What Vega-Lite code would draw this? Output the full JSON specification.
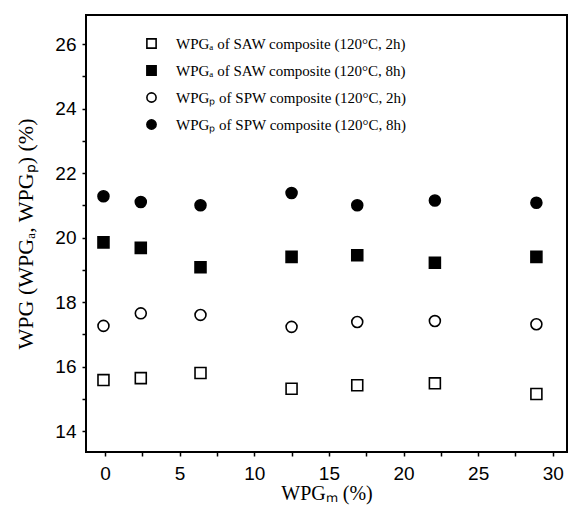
{
  "$schema": "https://vega.github.io/schema/vega-lite/v6.json",
  "autosize": {"type": "none"},
  "padding": {"left": 86, "top": 15, "right": 3, "bottom": 53},
  "width": 481,
  "height": 437,
  "background": "white",
  "config": {
    "view": {"stroke": "black", "strokeWidth": 2},
    "axis": {
      "grid": false,
      "labelFont": "Liberation Sans", "labelFontSize": 19, "labelColor": "black",
      "titleFont": "Liberation Serif", "titleFontSize": 22, "titleFontWeight": "normal", "titleColor": "black"
    }
  },
  "data": {
    "values": [
      {"x": -0.1, "y": 15.58, "s": "WPGₐ of SAW composite (120°C, 2h)"},
      {"x": 2.4, "y": 15.64, "s": "WPGₐ of SAW composite (120°C, 2h)"},
      {"x": 6.4, "y": 15.8, "s": "WPGₐ of SAW composite (120°C, 2h)"},
      {"x": 12.5, "y": 15.31, "s": "WPGₐ of SAW composite (120°C, 2h)"},
      {"x": 16.9, "y": 15.42, "s": "WPGₐ of SAW composite (120°C, 2h)"},
      {"x": 22.1, "y": 15.48, "s": "WPGₐ of SAW composite (120°C, 2h)"},
      {"x": 28.9, "y": 15.15, "s": "WPGₐ of SAW composite (120°C, 2h)"},
      {"x": -0.1, "y": 19.85, "s": "WPGₐ of SAW composite (120°C, 8h)"},
      {"x": 2.4, "y": 19.68, "s": "WPGₐ of SAW composite (120°C, 8h)"},
      {"x": 6.4, "y": 19.08, "s": "WPGₐ of SAW composite (120°C, 8h)"},
      {"x": 12.5, "y": 19.4, "s": "WPGₐ of SAW composite (120°C, 8h)"},
      {"x": 16.9, "y": 19.45, "s": "WPGₐ of SAW composite (120°C, 8h)"},
      {"x": 22.1, "y": 19.22, "s": "WPGₐ of SAW composite (120°C, 8h)"},
      {"x": 28.9, "y": 19.4, "s": "WPGₐ of SAW composite (120°C, 8h)"},
      {"x": -0.1, "y": 17.26, "s": "WPGₚ of SPW composite (120°C, 2h)"},
      {"x": 2.4, "y": 17.65, "s": "WPGₚ of SPW composite (120°C, 2h)"},
      {"x": 6.4, "y": 17.6, "s": "WPGₚ of SPW composite (120°C, 2h)"},
      {"x": 12.5, "y": 17.23, "s": "WPGₚ of SPW composite (120°C, 2h)"},
      {"x": 16.9, "y": 17.38, "s": "WPGₚ of SPW composite (120°C, 2h)"},
      {"x": 22.1, "y": 17.41, "s": "WPGₚ of SPW composite (120°C, 2h)"},
      {"x": 28.9, "y": 17.31, "s": "WPGₚ of SPW composite (120°C, 2h)"},
      {"x": -0.1, "y": 21.28, "s": "WPGₚ of SPW composite (120°C, 8h)"},
      {"x": 2.4, "y": 21.1, "s": "WPGₚ of SPW composite (120°C, 8h)"},
      {"x": 6.4, "y": 21.0, "s": "WPGₚ of SPW composite (120°C, 8h)"},
      {"x": 12.5, "y": 21.38, "s": "WPGₚ of SPW composite (120°C, 8h)"},
      {"x": 16.9, "y": 21.0, "s": "WPGₚ of SPW composite (120°C, 8h)"},
      {"x": 22.1, "y": 21.15, "s": "WPGₚ of SPW composite (120°C, 8h)"},
      {"x": 28.9, "y": 21.08, "s": "WPGₚ of SPW composite (120°C, 8h)"}
    ]
  },
  "mark": {"type": "point", "strokeWidth": 1.6, "opacity": 1},
  "encoding": {
    "x": {
      "field": "x", "type": "quantitative",
      "scale": {"domain": [-1.27, 30.95], "nice": false, "zero": false},
      "axis": {
        "title": "WPGₘ (%)", "titlePadding": 0, "titleFontSize": 20,
        "domain": false,
        "ticks": true, "tickSize": 4, "tickColor": "#000000", "tickWidth": 1.5, "tickOpacity": 1,
        "values": [0, 2.5, 5, 7.5, 10, 12.5, 15, 17.5, 20, 22.5, 25, 27.5, 30],
        "labelExpr": "datum.value % 5 === 0 ? datum.label : ''",
        "labelPadding": 8, "labelFlush": false, "labelOverlap": false
      }
    },
    "y": {
      "field": "y", "type": "quantitative",
      "scale": {"domain": [13.35, 26.9], "nice": false, "zero": false},
      "axis": {
        "title": "WPG (WPGₐ, WPGₚ) (%)", "titlePadding": 17,
        "domain": false,
        "ticks": true, "tickSize": 4, "tickColor": "#000000", "tickWidth": 1.5, "tickOpacity": 1,
        "values": [14, 15, 16, 17, 18, 19, 20, 21, 22, 23, 24, 25, 26],
        "labelExpr": "datum.value % 2 === 0 ? datum.label : ''",
        "labelPadding": 6, "labelFlush": false, "labelOverlap": false
      }
    },
    "shape": {
      "field": "s", "type": "nominal",
      "scale": {"range": ["square", "square", "circle", "circle"]},
      "legend": {
        "title": null, "orient": "none", "legendX": 58, "legendY": 21,
        "labelFont": "Liberation Serif", "labelFontSize": 15, "labelColor": "black",
        "rowPadding": 10, "symbolStrokeWidth": 1.6, "symbolSize": 85, "labelOffset": 17,
        "labelLimit": 400
      }
    },
    "fill": {
      "field": "s", "type": "nominal",
      "scale": {"range": ["white", "black", "white", "black"]},
      "legend": null
    },
    "stroke": {"value": "black"},
    "size": {"value": 120}
  }
}
